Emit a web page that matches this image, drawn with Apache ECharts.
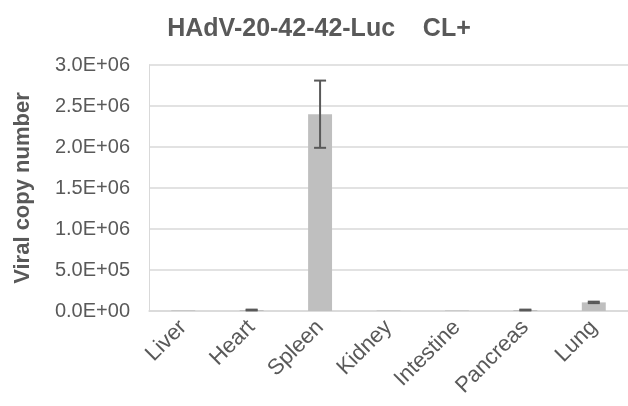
<!DOCTYPE html>
<html>
<head>
<meta charset="utf-8">
<script src="https://cdn.jsdelivr.net/npm/echarts@6/dist/echarts.min.js"></script>
<style>
  html, body { margin: 0; padding: 0; background: #fff; }
  #chart { width: 628px; height: 406px; }
</style>
</head>
<body>
<div id="chart"></div>
<script>
// Tissue distribution of viral genomes
const tissues = ['Liver', 'Heart', 'Spleen', 'Kidney', 'Intestine', 'Pancreas', 'Lung'];
const copyNumber = [8000, 12000, 2400000, 6000, 7000, 12000, 105000];
const copyError = [0, 5000, 410000, 0, 0, 5000, 9000];
const yTicks = [0, 500000, 1000000, 1500000, 2000000, 2500000, 3000000];

// Excel-style scientific label, e.g. 2.5E+06
function sci(v) {
  if (v === 0) return '0.0E+00';
  const exp = Math.floor(Math.log10(Math.abs(v)));
  const mant = v / Math.pow(10, exp);
  return mant.toFixed(1) + 'E+' + String(exp).padStart(2, '0');
}

const chart = echarts.init(document.getElementById('chart'), null, { renderer: 'canvas' });
const font = 'Liberation Sans, Arial, sans-serif';

chart.setOption({
  animation: false,
  title: {
    text: 'HAdV-20-42-42-Luc    CL+',
    left: 314,
    textAlign: 'center',
    top: 12,
    textStyle: { fontFamily: font, fontSize: 25, fontWeight: 'bold', color: '#595959' }
  },
  grid: { left: 149, right: -2, top: 65, bottom: 95, containLabel: false },
  xAxis: {
    type: 'category',
    data: tissues,
    axisLine: { lineStyle: { color: '#d9d9d9', width: 1.5 } },
    axisTick: { show: false },
    axisLabel: {
      rotate: 45, color: '#595959', fontFamily: font, fontSize: 22, margin: 13, interval: 0
    }
  },
  yAxis: {
    type: 'value',
    min: 0, max: yTicks[yTicks.length - 1], interval: yTicks[1] - yTicks[0],
    name: 'Viral copy number',
    nameLocation: 'middle',
    nameGap: 115,
    nameTextStyle: { fontFamily: font, fontSize: 22, fontWeight: 'bold', color: '#595959' },
    axisLine: { show: true, lineStyle: { color: '#d9d9d9', width: 1 } },
    axisTick: { show: false },
    splitLine: { lineStyle: { color: '#d9d9d9', width: 1.5 } },
    axisLabel: {
      color: '#595959', fontFamily: font, fontSize: 20, margin: 19,
      formatter: sci
    }
  },
  series: [
    {
      type: 'bar',
      data: copyNumber,
      barWidth: '35%',
      itemStyle: { color: '#bfbfbf' },
      z: 2
    },
    {
      // standard-deviation whiskers
      type: 'custom',
      z: 3,
      data: copyNumber.map((v, i) => [i, v - copyError[i], v + copyError[i], copyError[i]]),
      renderItem: function (params, api) {
        if (!api.value(3)) return null;
        const i = api.value(0);
        const lo = api.coord([i, api.value(1)]);
        const hi = api.coord([i, api.value(2)]);
        const half = 6;
        const style = { stroke: '#595959', lineWidth: 2 };
        return {
          type: 'group',
          children: [
            { type: 'line', shape: { x1: hi[0], y1: hi[1], x2: lo[0], y2: lo[1] }, style: style },
            { type: 'line', shape: { x1: hi[0] - half, y1: hi[1], x2: hi[0] + half, y2: hi[1] }, style: style },
            { type: 'line', shape: { x1: lo[0] - half, y1: lo[1], x2: lo[0] + half, y2: lo[1] }, style: style }
          ]
        };
      }
    }
  ]
});
</script>
</body>
</html>
